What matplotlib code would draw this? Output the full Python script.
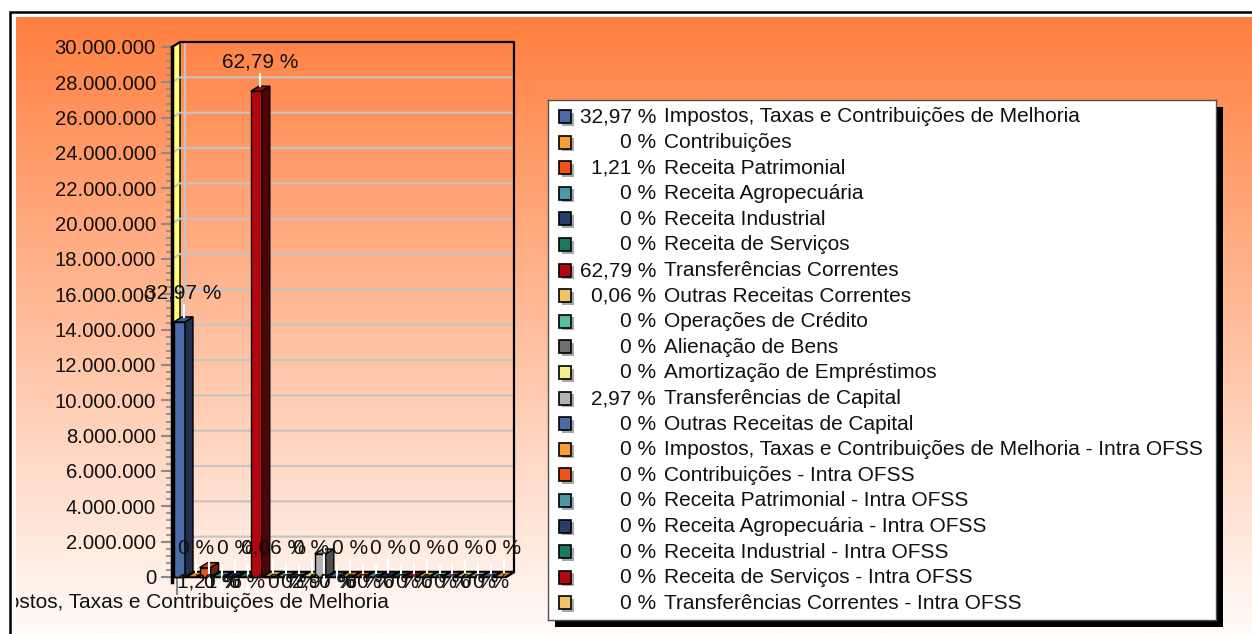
import matplotlib
matplotlib.use('Agg')
import matplotlib.pyplot as plt
from matplotlib.patches import Polygon, Rectangle
from matplotlib.ticker import FuncFormatter, MultipleLocator
import numpy as np

plt.rcParams['font.family'] = ['Liberation Sans', 'DejaVu Sans']

# ---- data ----
categoria = 'Impostos, Taxas e Contribuições de Melhoria'
receitas = [
    'Impostos, Taxas e Contribuições de Melhoria',
    'Contribuições',
    'Receita Patrimonial',
    'Receita Agropecuária',
    'Receita Industrial',
    'Receita de Serviços',
    'Transferências Correntes',
    'Outras Receitas Correntes',
    'Operações de Crédito',
    'Alienação de Bens',
    'Amortização de Empréstimos',
    'Transferências de Capital',
    'Outras Receitas de Capital',
    'Impostos, Taxas e Contribuições de Melhoria - Intra OFSS',
    'Contribuições - Intra OFSS',
    'Receita Patrimonial - Intra OFSS',
    'Receita Agropecuária - Intra OFSS',
    'Receita Industrial - Intra OFSS',
    'Receita de Serviços - Intra OFSS',
    'Transferências Correntes - Intra OFSS',
    'Outras Receitas Correntes - Intra OFSS',
    'Operações de Crédito - Intra OFSS',
    'Alienação de Bens - Intra OFSS',
    'Amortização de Empréstimos - Intra OFSS',
    'Transferências de Capital - Intra OFSS',
    'Outras Receitas de Capital - Intra OFSS',
]
valores = [14_440_000, 0, 530_000, 0, 0, 0, 27_500_000, 26_000, 0, 0, 0,
           1_300_000, 0, 0, 0, 0, 0, 0, 0, 0, 0, 0, 0, 0, 0, 0]
cores = ['#4A6AA8', '#F5A030', '#F25214', '#4A98A8', '#283E6C', '#187860',
         '#B4080E', '#F3C465', '#5ABE9E', '#707070', '#F2EE8C', '#B2B2B2']
n_legenda = 20
y_max = 30_000_000
y_passo = 2_000_000

total = sum(valores)
def fmt_pct(v):
    s = f"{v / total * 100:.2f}".rstrip('0').rstrip('.')
    return s.replace('.', ',') + ' %'
pcts = [fmt_pct(v) for v in valores]

FS = 15
TXT = '#111111'

# ---- figure / layout in pixels ----
W, H = 1252, 634
fig = plt.figure(figsize=(W / 100, H / 100), dpi=100)
fig.patch.set_facecolor('white')

def box(l, t, r, b):
    return [l / W, 1 - b / H, (r - l) / W, (b - t) / H]

# gradient background
bg = fig.add_axes(box(16, 17, W, H), zorder=-5)
g = np.linspace(0, 1, 400)[:, None, None]
c_top = np.array([255, 127, 63]) / 255
c_bot = np.array([255, 252, 249]) / 255
bg.imshow(c_top + (c_bot - c_top) * g, aspect='auto', extent=(0, 1, 0, 1))
bg.set_axis_off()
fig.add_artist(Rectangle((10 / W, -0.1), 1.2, (H - 12) / H + 0.1,
                         transform=fig.transFigure, fill=False,
                         ec='black', lw=1.8))

# main axes
ax = fig.add_axes(box(172, 47, 514, 577))
ax.patch.set_alpha(0)
passo_px = 12.8
x0_px = 179.5
xl = (172 - x0_px) / passo_px
xr = (514 - x0_px) / passo_px
ax.set_xlim(xl, xr)
ax.set_ylim(0, y_max)
sx = 1 / passo_px
sy = y_max / 530
dx, dy = 8 * sx, 5 * sy
w = 11 * sx

# left yellow wall
ax.add_patch(Polygon([(xl, 0), (xl, y_max), (xl + dx, y_max + dy), (xl + dx, dy)],
                     closed=True, fc='#FFFF80', ec='black', lw=1, clip_on=False, zorder=1))
# grid lines on back wall
for v in range(y_passo, y_max, y_passo):
    ax.plot([xl, xl + dx, xr], [v, v + dy, v + dy], color='#C4C4C4', lw=1.5,
            clip_on=False, zorder=1.5)
x_tick = -0.2
ax.plot([x_tick + dx, x_tick + dx], [dy, y_max + dy], color='#C4C4C4', lw=1.5,
        clip_on=False, zorder=1.5)
# back wall frame
ax.plot([xl, xl + dx, xr, xr], [y_max, y_max + dy, y_max + dy, dy], color='black',
        lw=1.6, clip_on=False, zorder=2)
# floor
ax.add_patch(Polygon([(xl, 0), (xr - dx, 0), (xr, dy), (xl + dx, dy)], closed=True,
                     fc='#1A1A1A', ec='black', lw=1.8, clip_on=False, zorder=2))

def escurecer(c, f):
    r, g_, b = matplotlib.colors.to_rgb(c)
    return (r * f, g_ * f, b * f)

off = 29 * sy
for i, (v, nome) in enumerate(zip(valores, receitas)):
    c = cores[i % len(cores)]
    x = i - w / 2
    z = 3 + i * 0.01
    if v > 0:
        ax.add_patch(Rectangle((x, 0), w, v, fc=c, ec='black', lw=1, clip_on=False, zorder=z))
    ax.add_patch(Polygon([(x + w, 0), (x + w, v), (x + w + dx, v + dy), (x + w + dx, dy)],
                         closed=True, fc=escurecer(c, 0.45), ec='black', lw=1,
                         clip_on=False, zorder=z))
    ax.add_patch(Polygon([(x, v), (x + w, v), (x + w + dx, v + dy), (x + dx, v + dy)],
                         closed=True, fc=escurecer(c, 0.85), ec='black', lw=1,
                         clip_on=False, zorder=z))
    if v >= y_passo or i % 3 == 1:
        ax.plot([i + dx / 2, i + dx / 2], [v + dy, v + 17 * sy], color='white', lw=1.5,
                clip_on=False, zorder=6)
        ax.text(i + dx / 2, v + off, pcts[i], ha='center', va='center', fontsize=FS,
                color=TXT, clip_on=False, zorder=7)
    else:
        ax.plot([i + dx / 2, i + dx / 2], [-14 * sy, v + 12 * sy], color='white', lw=1.5,
                clip_on=False, zorder=6)
        ax.text(i + dx / 2, -5 * sy, pcts[i], ha='center', va='center', fontsize=FS,
                color=TXT, clip_on=False, zorder=7)

# axes styling
for s in ['top', 'right', 'bottom']:
    ax.spines[s].set_visible(False)
ax.spines['left'].set_linewidth(2.5)
ax.spines['left'].set_bounds(-5 * sy, y_max)
ax.spines['left'].set_zorder(2.5)
ax.set_yticks(range(0, y_max + 1, y_passo))
ax.yaxis.set_minor_locator(MultipleLocator(y_passo / 5))
ax.yaxis.set_major_formatter(FuncFormatter(lambda v, p: f"{int(v):,}".replace(',', '.')))
ax.tick_params(axis='y', which='major', length=8, width=1.5, color='#8A8A8A',
               labelsize=14.6, pad=3.5, labelcolor=TXT)
ax.tick_params(axis='y', which='minor', length=4, width=1.2, color='#8A8A8A')
ax.set_xticks([x_tick])
ax.set_xticklabels([''])
ax.tick_params(axis='x', length=13, width=1.5, color='#8A8A8A')
rot = fig.text(x_tick + 4 * sx, -26 * sy, categoria, transform=ax.transData, ha='center',
               va='center', fontsize=FS, color=TXT)
rot.set_clip_box(bg.bbox)
rot.set_clip_on(True)

# legend
fig.add_artist(Rectangle((555 / W, 1 - 627 / H), 668 / W, 520 / H,
                         transform=fig.transFigure, fc='black', ec='none', zorder=-1))
lg = fig.add_axes(box(548, 100, 1216, 620))
lg.set_xlim(0, 668)
lg.set_ylim(520, 0)
lg.set_xticks([])
lg.set_yticks([])
lg.set_facecolor('white')
for s in lg.spines.values():
    s.set_linewidth(1)
    s.set_color('#505050')
for k in range(n_legenda):
    yc = 17 + 25.6 * k
    c = cores[k % len(cores)]
    lg.add_patch(Rectangle((13.5, yc - 4.5), 12, 13, fc='#A8A8A8', ec='none'))
    lg.add_patch(Rectangle((11, yc - 7), 12, 13, fc=c, ec='black', lw=1.2))
    lg.text(108, yc, pcts[k], ha='right', va='center', fontsize=FS, color=TXT)
    lg.text(116, yc, receitas[k], ha='left', va='center', fontsize=FS, color=TXT)

fig.savefig('out.png', dpi=100)
